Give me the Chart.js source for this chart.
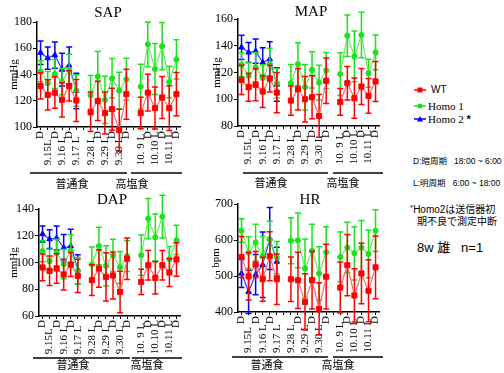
<!DOCTYPE html>
<html><head><meta charset="utf-8">
<script src="https://cdn.jsdelivr.net/npm/chart.js@4.4.1/dist/chart.umd.min.js"></script>
<style>
html,body{margin:0;padding:0;background:#fff}
body{width:504px;height:373px;overflow:hidden;position:relative;font-family:"Liberation Sans","Noto Sans CJK JP",sans-serif;color:#000}
canvas{position:absolute;display:block}
.t{position:absolute;white-space:pre;line-height:12px}
.serif{font-family:"Liberation Serif","Times New Roman",serif}
</style></head><body>
<canvas id="sap" width="200" height="190" style="left:0;top:0"></canvas>
<canvas id="map" width="190" height="190" style="left:200px;top:0"></canvas>
<canvas id="dap" width="200" height="183" style="left:0;top:190px"></canvas>
<canvas id="hr" width="190" height="183" style="left:200px;top:190px"></canvas>

<svg style="position:absolute;left:410px;top:80px" width="20" height="50">
  <line x1="4" y1="10" x2="16" y2="10" stroke="#ff0000" stroke-width="1.5"/>
  <rect x="7.5" y="7.5" width="5" height="5" fill="#ff0000"/>
  <line x1="4" y1="26" x2="16" y2="26" stroke="#1ee11e" stroke-width="1.5"/>
  <circle cx="10" cy="26" r="2.5" fill="#1ee11e"/>
  <line x1="4" y1="39" x2="16" y2="39" stroke="#0000ff" stroke-width="1.5"/>
  <polygon points="10,36 13,41.5 7,41.5" fill="#0000ff"/>
</svg>
<div class="t" style="left:431px;top:84px;font-size:10px">WT</div>
<div class="t serif" style="left:428px;top:100px;font-size:11px">Homo 1</div>
<div class="t serif" style="left:428px;top:113px;font-size:11px">Homo 2 <b style="font-family:'Liberation Sans'">*</b></div>

<div class="t" style="left:413px;top:155px;font-size:8.5px">D:暗周期   18:00 ~ 6:00</div>
<div class="t" style="left:413px;top:177px;font-size:8.5px">L:明周期   6:00 ~ 18:00</div>
<div class="t" style="left:410px;top:202px;font-size:10px"><span style="font-size:8px;vertical-align:3px">*</span>Homo2は送信器初</div>
<div class="t" style="left:417px;top:216px;font-size:10px">期不良で測定中断</div>
<div class="t" style="left:417px;top:241px;font-size:13px;line-height:14px">8w 雄   n=1</div>

<script>
// ---------------- data ----------------
const categories = ['D','9.15L','D','9.16 L','D','9.17 L','','9.28 L','D','9.29 L','D','9.30 L','D','','10. 9 L','D','10.10 L','D','10.11 L','D'];

const seriesNames = ['WT','Homo 1','Homo 2 *'];

const sapWT    = [131.3,124.5,126.2,120.7,131.3,120.2,null,111.6,119.9,110.6,113.6,97.5,125.0,null,110.6,126.2,114.4,122.5,114.4,125.0];
const sapWTerr = [10,11.5,12,13,11.5,16,null,15,15,16,16,16,19,null,12,14,16,16,17,16.5];
const sapH1    = [142.4,133.3,140.4,134.6,143.4,127.8,null,124.2,138.6,120.7,137.1,127.8,136.3,null,130.8,163.0,144.2,161.6,134.3,151.5];
const sapH1err = [8,9,11,10,12,12,null,15,19,18,15,14,16,null,17,17,19.5,18,12,15];
const sapH2    = [156.6,152.5,154.8,143.7,147.0,127.5,null,null,null,null,null,null,null,null,null,null,null,null,null,null];
const sapH2err = [9,8.5,10,12.5,14,13.5,null,null,null,null,null,null,null,null,null,null,null,null,null,null];

const mapWT    = [114.5,109.0,110.8,105.8,115.5,105.0,null,99.0,107.5,100.0,101.5,87.5,113.8,null,98.0,112.0,100.8,109.5,102.5,113.3];
const mapWTerr = [11,10.5,12,12,10,15,null,11,15.5,17,16,16,17,null,10,12.5,15,13.5,13,15];
const mapH1    = [125.8,117.5,124.0,115.8,126.5,112.0,null,112.0,126.3,109.0,122.0,112.5,121.5,null,118.8,147.5,132.0,148.0,119.5,135.0];
const mapH1err = [9,10,11,10,11.5,11,null,14,16,17,13.5,13,13.5,null,16,15.5,19,17,10.5,13];
const mapH2    = [138.8,135.0,136.0,127.5,130.0,111.0,null,null,null,null,null,null,null,null,null,null,null,null,null,null];
const mapH2err = [9,7.5,9,11,13,12.5,null,null,null,null,null,null,null,null,null,null,null,null,null,null];

const dapWT    = [96.3,93.8,95.5,91.0,98.5,90.0,null,86.8,95.5,89.3,90.3,78.0,102.8,null,85.5,98.0,88.5,98.0,92.5,102.3];
const dapWTerr = [10,11,11,11.5,9,12.5,null,11.5,14,18,17.5,15.5,15.5,null,9.5,11,12,11,10.5,12.5];
const dapH1    = [108.5,101.0,107.3,98.8,108.8,93.8,null,98.5,112.3,97.5,105.3,96.3,104.8,null,105.5,132.8,118.8,134.3,102.5,116.8];
const dapH1err = [8,9,10,11,12,10,null,13,14,15,12,12,11.5,null,15,15,17.5,16,9.5,11];
const dapH2    = [121.3,117.5,118.3,111.0,112.3,94.8,null,null,null,null,null,null,null,null,null,null,null,null,null,null];
const dapH2err = [6,7,9,10,12.5,11,null,null,null,null,null,null,null,null,null,null,null,null,null,null];

const hrWT    = [553,499,532,491,555,491,null,491,488,428,488,409,498,null,468,530,446,507,459,524];
const hrWTerr = [57,66,36,61,68,70,null,62,78,78,80,72,90,null,71,85,74,84,86,87];
const hrH1    = [626,565,593,555,602,551,null,598,599,521,570,507,566,null,553,579,563,579,561,626];
const hrH1err = [33,44,51,55,50,45,null,64,76,82,74,74,71,null,69,70,74,75,66,58];
const hrH2    = [507,456,504,531,604,540,null,null,null,null,null,null,null,null,null,null,null,null,null,null];
const hrH2err = [39,60,56,91,86,40,null,null,null,null,null,null,null,null,null,null,null,null,null,null];

const sapTicks = {min:100, max:180, step:20};
const mapTicks = {min:80, max:160, step:20};
const dapTicks = {min:60, max:140, step:20};
const hrTicks  = {min:400, max:700, step:100};

// ---------------- styling ----------------
const SERIF = '"Liberation Serif","Times New Roman",serif';
const CJK = '"Noto Sans CJK JP","Liberation Sans",sans-serif';
const COL = {
  wt:{pt:'#ff0000', line:'#ff6a6a'},
  h1:{pt:'#1ee11e', line:'#5fee5f'},
  h2:{pt:'#0000ff', line:'#3a3aff'}
};

const mctx = document.createElement('canvas').getContext('2d');
function padLabel(s, target){
  if (!s || s === 'D') return s;
  mctx.font = '11px ' + SERIF;
  let t = s;
  while (mctx.measureText(t + ' ').width <= target) t += ' ';
  return t;
}

function ds(label, data, err, c, style, r){
  return {label, data, errors:err, errColor:c.pt,
    borderColor:c.line, backgroundColor:c.pt, borderWidth:1.2,
    pointStyle:style, pointRadius:r, pointHoverRadius:r,
    pointBackgroundColor:c.pt, pointBorderColor:c.pt, pointBorderWidth:1,
    spanGaps:false, tension:0, clip:false};
}

const errorBars = {
  id:'errorBars',
  beforeDatasetDraw(chart, args){
    const d = chart.data.datasets[args.index];
    if (!d.errors) return;
    const y = chart.scales.y, ctx = chart.ctx;
    ctx.save();
    ctx.strokeStyle = d.errColor; ctx.lineWidth = 1.5;
    args.meta.data.forEach((p, i) => {
      const v = d.data[i], e = d.errors[i];
      if (v == null || e == null) return;
      const yt = y.getPixelForValue(v + e), yb = y.getPixelForValue(v - e);
      ctx.beginPath();
      ctx.moveTo(p.x, yt); ctx.lineTo(p.x, yb);
      ctx.moveTo(p.x - 3, yt); ctx.lineTo(p.x + 3, yt);
      ctx.moveTo(p.x - 3, yb); ctx.lineTo(p.x + 3, yb);
      ctx.stroke();
    });
    ctx.restore();
  }
};

const deco = {
  id:'deco',
  afterDraw(chart, args, o){
    const ctx = chart.ctx;
    ctx.save();
    ctx.fillStyle = '#000'; ctx.textAlign = 'center'; ctx.textBaseline = 'middle';
    ctx.font = '15px ' + SERIF;
    ctx.fillText(o.title, o.tx, o.ty);
    ctx.strokeStyle = '#000'; ctx.lineWidth = 1.5;
    o.lines.forEach(([a, b, y]) => { ctx.beginPath(); ctx.moveTo(a, y); ctx.lineTo(b, y); ctx.stroke(); });
    ctx.font = '11px ' + CJK;
    o.texts.forEach(([t, x, y]) => ctx.fillText(t, x, y));
    ctx.restore();
  }
};

function makeChart(id, wt, wtE, h1, h1E, h2, h2E, tk, yTitle, g, decoOpts){
  const canvas = document.getElementById(id);
  new Chart(canvas, {
    type:'line',
    data:{labels:categories, datasets:[
      ds(seriesNames[0], wt, wtE, COL.wt, 'rect', 3.6),
      ds(seriesNames[1], h1, h1E, COL.h1, 'circle', 2.6),
      ds(seriesNames[2], h2, h2E, COL.h2, 'triangle', 3.2)
    ]},
    options:{
      responsive:false, animation:false, devicePixelRatio:1,
      events:[],
      layout:{padding:{left:0, right:g.w - g.right, top:g.top, bottom:0}},
      plugins:{legend:{display:false}, tooltip:{enabled:false}, deco:decoOpts},
      scales:{
        x:{type:'category', offset:true,
          grid:{display:true, drawOnChartArea:false, drawTicks:true, tickLength:3, color:'#000', offset:false},
          border:{display:true, color:'#000', width:1.5},
          ticks:{autoSkip:false, minRotation:90, maxRotation:90, padding:1, color:'#000',
            font:{family:SERIF, size:11},
            callback:function(v){ return padLabel(this.getLabelForValue(v), g.lab); }},
          afterFit:s => { s.height = g.h - g.bottom; }
        },
        y:{min:tk.min, max:tk.max,
          ticks:{stepSize:tk.step, color:'#000', padding:1, font:{family:SERIF, size:12}},
          grid:{display:true, drawOnChartArea:false, drawTicks:true, tickLength:4, color:'#000'},
          border:{display:true, color:'#000', width:1.5},
          title:{display:true, text:yTitle, color:'#000', font:{family:SERIF, size:11}, padding:{top:g.tpad, bottom:0}},
          afterFit:s => { s.width = g.left; }
        }
      }
    },
    plugins:[errorBars, deco]
  });
}

makeChart('sap', sapWT, sapWTerr, sapH1, sapH1err, sapH2, sapH2err, sapTicks, 'mmHg',
  {w:200, h:190, left:37, right:180, top:22, bottom:127, tpad:8, lab:35},
  {title:'SAP', tx:108, ty:13, lines:[[30,127,173],[131,182,173]], texts:[['普通食',72,184],['高塩食',132,184]]});

makeChart('map', mapWT, mapWTerr, mapH1, mapH1err, mapH2, mapH2err, mapTicks, 'mmHg',
  {w:190, h:190, left:38, right:180, top:19, bottom:126, tpad:11, lab:35},
  {title:'MAP', tx:111, ty:12, lines:[[43,128,173],[133,183,173]], texts:[['普通食',71,183],['高塩食',143,183]]});

makeChart('dap', dapWT, dapWTerr, dapH1, dapH1err, dapH2, dapH2err, dapTicks, 'mmHg',
  {w:200, h:183, left:39, right:180, top:19, bottom:126, tpad:8, lab:36},
  {title:'DAP', tx:112, ty:10, lines:[[33,130,168],[132,182,168]], texts:[['普通食',73,175],['高塩食',147,175]]});

makeChart('hr', hrWT, hrWTerr, hrH1, hrH1err, hrH2, hrH2err, hrTicks, 'bpm',
  {w:190, h:183, left:38, right:180, top:14, bottom:122, tpad:10, lab:38},
  {title:'HR', tx:110, ty:10, lines:[[32,128,167],[133,183,167]], texts:[['普通食',67,175],['高塩食',138,175]]});
</script>
</body></html>
